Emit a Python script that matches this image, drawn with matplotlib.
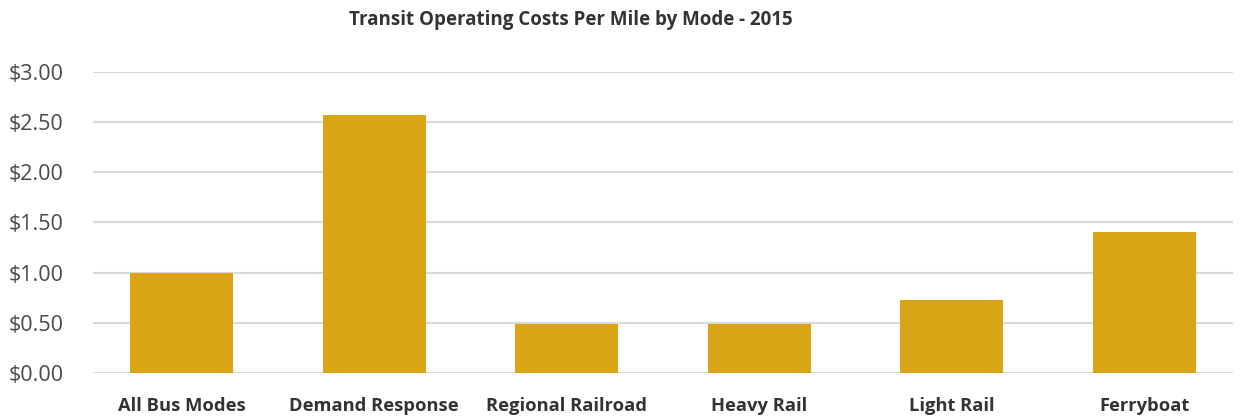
import matplotlib
matplotlib.use("Agg")
import matplotlib.pyplot as plt
from matplotlib.ticker import FuncFormatter

modes = ["All Bus Modes", "Demand Response", "Regional Railroad",
         "Heavy Rail", "Light Rail", "Ferryboat"]
cost_per_mile = [1.00, 2.57, 0.49, 0.49, 0.73, 1.40]
y_ticks = [0.0, 0.5, 1.0, 1.5, 2.0, 2.5, 3.0]

plt.rcParams['font.family'] = ['Open Sans', 'DejaVu Sans']

fig = plt.figure(figsize=(12.4, 4.2), dpi=100)
ax = fig.add_axes([0.075, 0.112, 0.919, 0.717])

x = range(len(modes))
ax.bar(x, cost_per_mile, width=0.535, color='#D9A514', zorder=3)

ax.set_xlim(-0.46, len(modes) - 0.54)
ax.set_ylim(0, 3.0)
ax.set_yticks(y_ticks)
ax.yaxis.set_major_formatter(FuncFormatter(lambda v, _: f"${v:.2f}"))
ax.set_xticks(list(x))
ax.set_xticklabels(modes, fontweight='bold', fontsize=13.2, color='#333333')
ax.tick_params(axis='y', labelsize=15.5, colors='#4a4a4a', length=0, pad=21)
ax.tick_params(axis='x', length=0, pad=17)

ax.grid(axis='y', color='#d9d9d9', lw=1.5, zorder=0)
for s in ax.spines.values():
    s.set_visible(False)

fig.text(0.46, 0.952, "Transit Operating Costs Per Mile by Mode - 2015",
         fontsize=13.5, fontweight='bold', color='#333333',
         ha='center', va='center')

fig.savefig("out.png", dpi=100)
